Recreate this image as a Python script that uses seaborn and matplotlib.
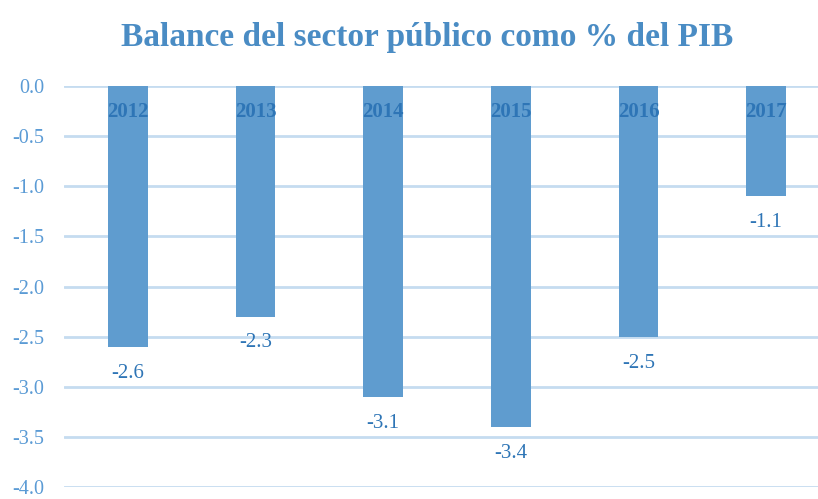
import matplotlib
matplotlib.use('Agg')
import matplotlib.pyplot as plt
import seaborn as sns
import pandas as pd

# --- Data ---
years  = ["2012", "2013", "2014", "2015", "2016", "2017"]
values = [-2.6, -2.3, -3.1, -3.4, -2.5, -1.1]
yticks = [0.0, -0.5, -1.0, -1.5, -2.0, -2.5, -3.0, -3.5, -4.0]

BAR   = "#5f9ccf"
TICK  = "#5b9bd5"
DARK  = "#2e75b6"
GRID  = "#c5dcf0"

sns.set_style("white")
plt.rcParams['font.family'] = ['Liberation Serif', 'DejaVu Serif']

df = pd.DataFrame({"year": years, "value": values})

fig = plt.figure(figsize=(8.18, 4.99), dpi=100)
ax = fig.add_axes([64 / 818, 12 / 499, 766 / 818, 401 / 499])

sns.barplot(data=df, x="year", y="value", order=years, color=BAR,
            width=0.31, saturation=1, linewidth=0, ax=ax, zorder=3)

ax.set_ylim(-4.0, 0.0)
ax.set_xlim(-0.5, 5.5)
ax.set_yticks(yticks)
ax.set_yticklabels([f"{t:.1f}" for t in yticks], color=TICK, fontsize=14.5)
ax.set_xticks([])
ax.set_xlabel("")
ax.set_ylabel("")
ax.tick_params(axis='y', length=0, pad=14)
for t in yticks:
    ax.axhline(t, color=GRID, linewidth=2, zorder=1)
for s in ax.spines.values():
    s.set_visible(False)

# year labels inside bars, value labels under bars
for i, (yr, v) in enumerate(zip(years, values)):
    ax.text(i, -0.26, yr, ha='center', va='center', color=DARK,
            fontsize=15, fontweight='bold', zorder=5)
    ax.annotate(f"{v:.1f}", xy=(i, v), xytext=(0, -19), textcoords="offset points",
                ha='center', va='center', color=DARK, fontsize=15, zorder=5)

fig.text(0.522, 0.924, "Balance del sector público como % del PIB",
         ha='center', va='center', color="#4a8cc4", fontsize=24, fontweight='bold')

plt.savefig("out.png", dpi=100)
plt.close()
